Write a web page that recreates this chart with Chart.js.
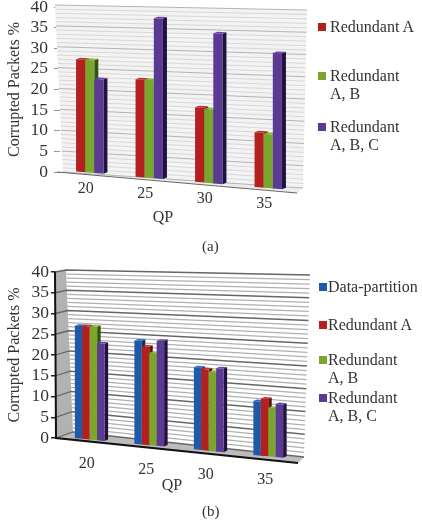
<!DOCTYPE html>
<html>
<head>
<meta charset="utf-8">
<style>
  html, body { margin: 0; padding: 0; background: #fff; }
  #page { position: relative; width: 422px; height: 522px; overflow: hidden; font-family: "Liberation Serif", serif; color: #333; }
  canvas { position: absolute; left: 0; }
  .legend-item { position: absolute; font-size: 16px; line-height: 18px; white-space: pre; }
  .legend-swatch { position: absolute; width: 8px; height: 8px; }
  .caption { position: absolute; font-size: 15px; left: 202px; }
</style>
<script src="https://cdn.jsdelivr.net/npm/chart.js@4"></script>
</head>
<body>
<div id="page">
  <canvas id="chartA" width="422" height="260" style="top:0"></canvas>
  <canvas id="chartB" width="422" height="262" style="top:260px"></canvas>
</div>
<script>
const qpLabels = ['20', '25', '30', '35'];

const redundantA_a = [27, 23, 17.3, 12.5];
const redundantAB_a = [27, 23, 17, 12.3];
const redundantABC_a = [22.5, 37.5, 34.5, 30.6];

const dataPartition_b = [27, 24.2, 18.8, 12.1];
const redundantA_b = [27, 22.9, 18.5, 12.8];
const redundantAB_b = [27, 21.5, 18, 10.9];
const redundantABC_b = [23.1, 24.4, 18.9, 11.8];

const BLUE = { front: '#1f5aa8', side: '#14305e', top: '#2c6cc0' };
const RED = { front: '#b3201f', side: '#611010', top: '#c23030' };
const GREEN = { front: '#7aa62e', side: '#2f5510', top: '#8db840' };
const PURPLE = { front: '#5b3a94', side: '#22123f', top: '#6b48a8' };

const lerp = (a, b, t) => a + (b - a) * t;

function fillPolygon(ctx, color, points) {
  ctx.fillStyle = color;
  ctx.beginPath();
  points.forEach(([px, py], i) => (i ? ctx.lineTo(px, py) : ctx.moveTo(px, py)));
  ctx.closePath();
  ctx.fill();
}

// Paints the sloped back wall, floor and gridlines, then the bars as solid blocks.
const perspective = {
  id: 'perspective',
  beforeDatasetsDraw(chart, args, opts) {
    const { ctx, scales: { y } } = chart;
    const { wall, front } = opts;
    ctx.save();
    fillPolygon(ctx, opts.wallFill, [wall.tl, wall.tr, wall.br, wall.bl]);
    if (opts.sideWall) {
      fillPolygon(ctx, opts.sideWall, [opts.axisTop, wall.tl, wall.bl, front.l]);
    }
    fillPolygon(ctx, opts.floor, [front.l, wall.bl, wall.br, front.r]);

    // one line per unit on the wall, heavier every fifth
    for (let v = y.min; v <= y.max; v++) {
      const f = (v - y.min) / (y.max - y.min);
      const major = v % 5 === 0;
      const lx = lerp(wall.bl[0], wall.tl[0], f), ly = lerp(wall.bl[1], wall.tl[1], f);
      ctx.strokeStyle = major ? opts.majorLine : opts.minorLine;
      ctx.lineWidth = opts.lineWidth;
      ctx.beginPath();
      if (opts.sideWall && major) {
        ctx.moveTo(lerp(front.l[0], opts.axisTop[0], f), lerp(front.l[1], opts.axisTop[1], f));
        ctx.lineTo(lx, ly);
      } else {
        ctx.moveTo(lx, ly);
      }
      ctx.lineTo(lerp(wall.br[0], wall.tr[0], f), lerp(wall.br[1], wall.tr[1], f));
      ctx.stroke();
    }

    ctx.strokeStyle = opts.axisLine;
    ctx.lineWidth = opts.axisWidth;
    ctx.beginPath();
    if (opts.sideWall) {
      ctx.moveTo(opts.axisTop[0], opts.axisTop[1]);
      ctx.lineTo(front.l[0], front.l[1]);
    } else {
      ctx.moveTo(front.l[0], front.l[1]);
    }
    ctx.lineTo(front.r[0], front.r[1]);
    ctx.stroke();

    // bars go left to right so each block's side sits behind its right neighbour
    const area = chart.chartArea;
    const project = (x, py) => {
      const t = (x - area.left) / (area.right - area.left);
      const base = lerp(opts.baseLine[0], opts.baseLine[1], t);
      const top = lerp(opts.topLine[0], opts.topLine[1], t);
      return top + (base - top) * (py - area.top) / (area.bottom - area.top);
    };
    const bars = [];
    chart.getSortedVisibleDatasetMetas().forEach((meta) => {
      const colors = chart.data.datasets[meta.index].shades;
      meta.data.forEach((el) => bars.push({ el, colors }));
    });
    bars.sort((p, q) => p.el.x - q.el.x);
    const d = opts.depth, rise = opts.rise;
    bars.forEach(({ el, colors }) => {
      const x0 = el.x - el.width / 2, x1 = el.x + el.width / 2;
      const t0 = project(x0, el.y), t1 = project(x1, el.y);
      const b0 = project(x0, el.base), b1 = project(x1, el.base);
      fillPolygon(ctx, colors.side, [[x1, t1], [x1 + d, t1 - rise], [x1 + d, b1 - rise], [x1, b1]]);
      fillPolygon(ctx, colors.top, [[x0, t0], [x0 + d, t0 - rise], [x1 + d, t1 - rise], [x1, t1]]);
      fillPolygon(ctx, colors.front, [[x0, t0], [x1, t1], [x1, b1], [x0, b0]]);
    });
    ctx.restore();
    return false;
  },
  afterDraw(chart, args, opts) {
    // category labels follow the sloping floor
    const { ctx, scales: { x } } = chart;
    ctx.save();
    ctx.font = '16px "Liberation Serif"';
    ctx.fillStyle = '#333';
    ctx.textAlign = 'center';
    ctx.textBaseline = 'middle';
    chart.data.labels.forEach((label, i) => {
      const px = x.getPixelForTick(i) + opts.labelOffset;
      const t = (px - chart.chartArea.left) / (chart.chartArea.right - chart.chartArea.left);
      ctx.fillText(label, px, lerp(opts.labelLine[0], opts.labelLine[1], t));
    });
    ctx.fillText(opts.xTitle, opts.xTitlePos[0], opts.xTitlePos[1]);
    ctx.restore();
  }
};

function makeChart(id, series, group, plotTop, plotBottom, view) {
  const canvas = document.getElementById(id);
  return new Chart(canvas, {
    type: 'bar',
    plugins: [perspective],
    data: {
      labels: qpLabels,
      datasets: series.map((s) => ({
        label: s.label.join(' '),
        data: s.data,
        backgroundColor: s.color.front,
        shades: s.color
      }))
    },
    options: {
      responsive: false,
      animation: false,
      layout: { padding: { left: 0, right: 124, top: plotTop, bottom: 0 } },
      datasets: { bar: { barPercentage: 1, categoryPercentage: group } },
      plugins: {
        legend: { display: false },
        tooltip: { enabled: false },
        perspective: view
      },
      scales: {
        x: {
          grid: { display: false },
          border: { display: false },
          ticks: { display: false },
          afterFit(scale) { scale.height = canvas.height - plotBottom; }
        },
        y: {
          min: 0,
          max: 40,
          afterFit(scale) {
            scale.width = 60;
            scale.paddingTop = 0;
            scale.paddingBottom = 0;
          },
          border: { display: false },
          grid: { drawOnChartArea: false, drawTicks: true, tickLength: view.tickLength, color: view.tickColor, lineWidth: view.tickWidth },
          ticks: { stepSize: 5, autoSkip: false, padding: view.tickPadding, color: '#333', font: { family: '"Liberation Serif"', size: 17.5 } },
          title: {
            display: true,
            text: 'Corrupted Packets %',
            color: '#333',
            padding: { top: 5, bottom: 0 },
            font: { family: '"Liberation Serif"', size: 16 }
          }
        }
      }
    }
  });
}

const seriesA = [
  { label: ['Redundant A'], data: redundantA_a, color: RED },
  { label: ['Redundant', 'A, B'], data: redundantAB_a, color: GREEN },
  { label: ['Redundant', 'A, B, C'], data: redundantABC_a, color: PURPLE }
];
const seriesB = [
  { label: ['Data-partition'], data: dataPartition_b, color: BLUE },
  { label: ['Redundant A'], data: redundantA_b, color: RED },
  { label: ['Redundant', 'A, B'], data: redundantAB_b, color: GREEN },
  { label: ['Redundant', 'A, B, C'], data: redundantABC_b, color: PURPLE }
];

makeChart('chartA', seriesA, 0.46, 7, 172, {
  wall: { tl: [55, 5], tr: [307, 10], bl: [63, 172], br: [303, 188] },
  front: { l: [57, 172], r: [297, 193] },
  wallFill: '#f3f3f3',
  floor: '#ededed',
  majorLine: '#b4b4b4',
  minorLine: '#d8d8d8',
  lineWidth: 1,
  axisLine: '#666',
  axisWidth: 1,
  tickColor: '#999',
  tickLength: 6,
  tickWidth: 1,
  tickPadding: 6,
  baseLine: [170.6, 191.3],
  topLine: [4.5, 11.9],
  depth: 4, rise: 1.5,
  labelLine: [187, 207],
  labelOffset: -4,
  xTitle: 'QP',
  xTitlePos: [163, 218]
});

makeChart('chartB', seriesB, 0.5, 12, 178, {
  wall: { tl: [66, 10], tr: [310, 15], bl: [73, 172], br: [304, 197] },
  front: { l: [56, 178], r: [298, 203] },
  axisTop: [55, 12],
  wallFill: '#ffffff',
  sideWall: '#b2b2b2',
  floor: '#bcbcbc',
  majorLine: '#666666',
  minorLine: '#b0b0b0',
  lineWidth: 1.3,
  axisLine: '#111',
  axisWidth: 2,
  tickColor: '#222',
  tickLength: 9,
  tickWidth: 1.5,
  tickPadding: 2,
  baseLine: [177.5, 200],
  topLine: [11, 16],
  depth: 3.5, rise: 1.5,
  labelLine: [201.7, 222.7],
  labelOffset: -3,
  xTitle: 'QP',
  xTitlePos: [172, 226]
});

// Side keys and captions
const page = document.getElementById('page');
function addLegend(series, swatchLeft, textLeft, tops) {
  series.forEach((s, i) => {
    const swatch = document.createElement('div');
    swatch.className = 'legend-swatch';
    swatch.style.left = swatchLeft + 'px';
    swatch.style.top = (tops[i] + 5) + 'px';
    swatch.style.background = s.color.front;
    page.appendChild(swatch);
    const text = document.createElement('div');
    text.className = 'legend-item';
    text.style.left = textLeft + 'px';
    text.style.top = tops[i] + 'px';
    text.textContent = s.label.join('\n');
    page.appendChild(text);
  });
}
addLegend(seriesA, 318, 330, [18, 67, 118]);
addLegend(seriesB, 319, 328, [278, 316, 351, 389]);

[['(a)', 238], ['(b)', 503]].forEach(([txt, top]) => {
  const c = document.createElement('div');
  c.className = 'caption';
  c.style.top = top + 'px';
  c.textContent = txt;
  page.appendChild(c);
});
</script>
</body>
</html>
